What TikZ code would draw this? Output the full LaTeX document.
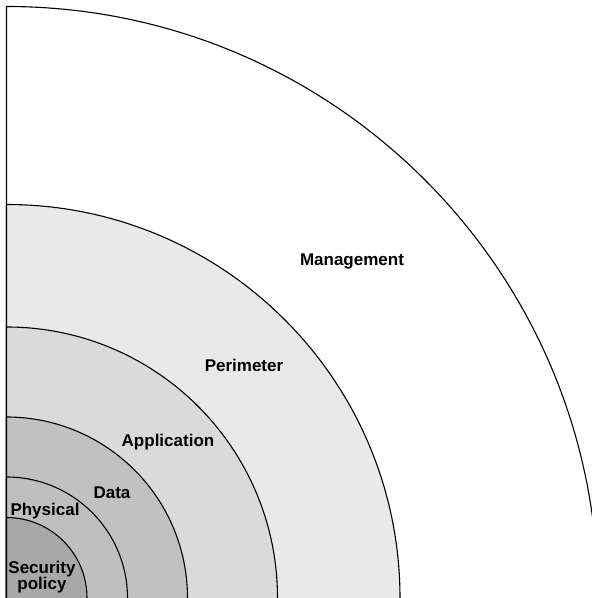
\documentclass[tikz,border=0pt]{standalone}
\usepackage{fontspec}
\setmainfont{Liberation Sans}
\definecolor{secgray}{gray}{0.66}
\definecolor{phygray}{gray}{0.75}
\definecolor{datgray}{gray}{0.755}
\definecolor{appgray}{gray}{0.855}
\definecolor{pergray}{gray}{0.915}
\begin{document}
\begin{tikzpicture}[x=1pt,y=1pt,font=\fontsize{17}{16}\selectfont\bfseries,
    ring/.style={line width=1.1pt},
    lbl/.style={inner sep=0pt,anchor=base}]
    \useasboundingbox (-6.5,0) rectangle (585.5,598);
    \clip (-6.5,0) rectangle (585.5,598);

    % layers, outermost first
    \foreach \r/\c in {591.5/white,393.5/pergray,271/appgray,181/datgray,121/phygray,80.5/secgray}{
        \fill[\c] (0,0) -- (\r,0) arc (0:90:\r) -- cycle;
        \draw[ring] (\r,0) arc (0:90:\r) -- (0,0);
    }

    \node[lbl] (mgmt) at (345.5,332.5) {Management};
    \node[lbl] (perim) at (237.5,226) {Perimeter};
    \node[lbl] (app) at (161.5,151) {Application};
    \node[lbl] (data) at (105.5,99) {Data};
    \node[lbl] (phys) at (38.5,82) {Physical};
    \node[inner sep=0pt,align=center] (secpol) at (35.5,20.5) {Security\\policy};
\end{tikzpicture}
\end{document}
